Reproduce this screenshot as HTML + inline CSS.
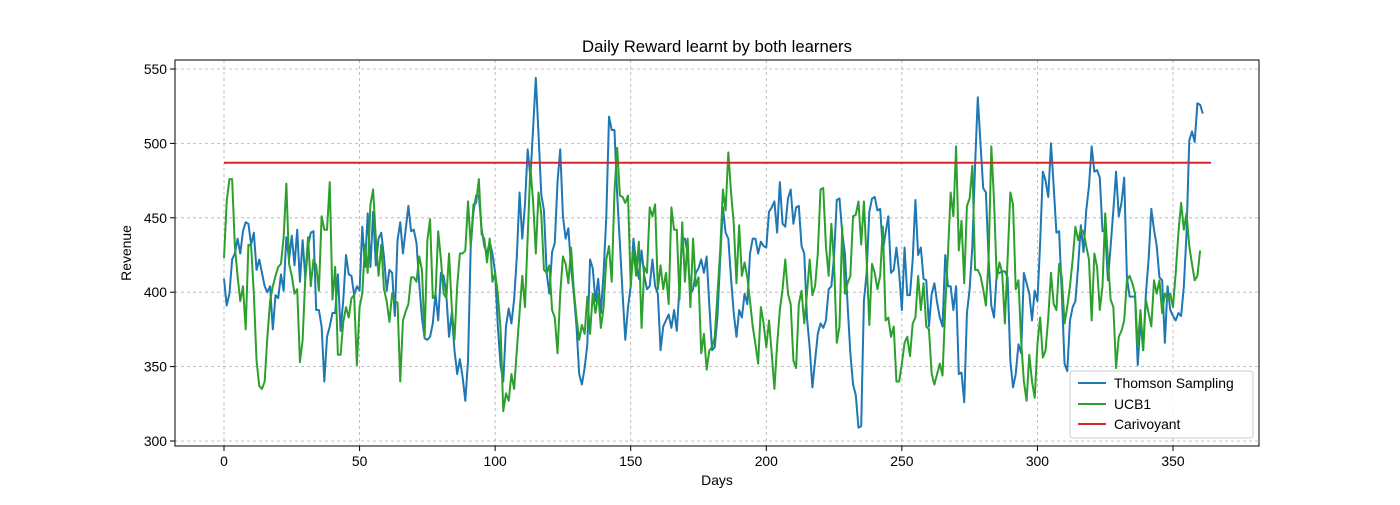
<!DOCTYPE html>
<html><head><meta charset="utf-8"><style>
body{margin:0;background:#fff;}
svg text{font-family:"Liberation Sans","DejaVu Sans",sans-serif;fill:#000;}
</style></head><body>
<svg id="chart" width="1400" height="500" viewBox="0 0 1400 500" xmlns="http://www.w3.org/2000/svg">
<rect x="0" y="0" width="1400" height="500" fill="#fff"/>
<g id="grid"></g>
<g id="series"></g>
<rect x="175" y="60" width="1084" height="386" fill="none" stroke="#000" stroke-width="1"/>
<g id="ticks"></g>
<text x="717" y="52" font-size="16.7" text-anchor="middle">Daily Reward learnt by both learners</text>
<text x="717" y="485" font-size="13.9" text-anchor="middle">Days</text>
<text x="131" y="253" font-size="13.9" text-anchor="middle" transform="rotate(-90 131 253)">Revenue</text>
<g>
<rect x="1070" y="371" width="183" height="67" rx="3" fill="#fff" fill-opacity="0.8" stroke="#ccc"/>
<line x1="1078" y1="383" x2="1106" y2="383" stroke="#1f77b4" stroke-width="2"/>
<text x="1114" y="388" font-size="13.9">Thomson Sampling</text>
<line x1="1078" y1="404" x2="1106" y2="404" stroke="#2ca02c" stroke-width="2"/>
<text x="1114" y="409" font-size="13.9">UCB1</text>
<line x1="1078" y1="424" x2="1106" y2="424" stroke="#d62728" stroke-width="2"/>
<text x="1114" y="429" font-size="13.9">Carivoyant</text>
</g>
</svg>
<script>
const xTicks=[0,50,100,150,200,250,300,350];
const yTicks=[300,350,400,450,500,550];
const thomson=[409,391,399,422,426,436,426,441,447,446,432,440,415,422,413,404,400,404,375,398,396,412,401,437,422,438,418,442,407,435,409,431,440,441,388,388,377,340,370,377,386,386,412,374,395,425,412,411,398,404,401,444,417,453,417,454,418,436,440,424,
401,415,413,384,435,447,426,442,458,441,442,433,406,383,369,368,370,379,399,381,413,411,398,370,386,361,345,355,343,327,354,431,454,465,465,443,431,426,434,426,413,377,351,340,377,389,379,395,424,467,436,459,496,477,510,
544,506,466,455,413,399,427,433,474,496,451,436,443,417,399,377,345,338,349,365,422,416,394,409,386,413,451,518,509,509,466,433,399,368,390,404,436,420,409,428,411,402,404,422,404,399,361,377,381,385,376,388,374,404,436,436,426,399,402,413,
416,422,413,424,391,361,363,384,422,457,440,436,409,386,370,388,383,399,392,426,436,436,426,434,431,430,454,457,461,440,474,446,444,463,469,446,457,458,431,426,383,363,336,354,372,379,376,381,402,404,424,462,463,440,426,391,359,338,331,309,310,
394,413,454,463,464,455,456,428,440,451,413,415,430,413,388,430,398,398,422,462,425,430,409,408,377,399,406,393,383,377,425,404,404,388,404,345,346,326,386,402,431,485,531,500,470,467,422,391,383,413,413,414,414,410,354,336,345,365,359,
413,406,399,381,401,394,433,481,475,464,500,471,440,441,399,352,347,381,390,394,417,445,427,455,471,498,481,482,477,441,441,408,431,455,481,451,460,477,410,397,397,397,351,381,361,399,422,456,442,431,410,408,366,404,388,384,381,386,384,404,440,502,508,501,527,526,520];
const ucb1=[423,461,476,476,431,411,394,404,375,432,431,399,354,337,335,340,370,394,404,411,417,419,437,473,419,411,399,402,353,368,411,437,404,422,418,401,451,442,442,474,395,417,358,358,380,390,383,396,398,351,390,399,432,413,459,469,436,411,432,402,
394,380,399,394,393,340,381,387,392,410,410,407,424,415,370,435,449,396,398,441,422,399,396,426,390,368,404,426,426,428,461,431,459,460,476,439,436,420,436,407,413,399,375,320,332,327,345,335,361,386,411,390,437,484,461,
426,467,453,415,413,418,388,383,359,399,424,419,406,430,402,383,368,378,372,397,372,399,386,399,376,390,422,431,407,467,497,465,464,460,465,404,428,411,434,376,417,413,457,451,459,402,418,402,413,392,457,442,442,395,447,407,436,390,436,
404,410,359,372,348,361,363,370,399,428,469,455,494,467,446,406,445,411,420,410,394,377,365,352,390,379,363,381,359,335,365,388,402,422,399,392,354,349,392,401,379,399,422,398,404,426,469,470,431,411,446,419,366,377,444,399,406,411,451,452,461,
432,461,422,378,419,413,402,411,444,381,383,370,377,340,340,352,366,370,357,379,383,411,388,406,377,375,345,338,345,352,344,390,426,467,451,498,428,448,406,458,463,485,415,415,411,402,391,422,498,461,409,420,413,379,422,467,459,402,408,
367,340,327,358,340,329,365,383,356,361,383,413,392,388,419,410,379,390,404,422,444,435,442,441,431,422,381,426,417,388,404,453,422,395,390,349,370,374,381,408,411,406,399,363,388,361,395,386,377,408,399,408,386,399,395,399,390,413,440,460,442,453,431,419,408,411,428];
const clairvoyantValue=[487];
const clairvoyantDays=[0,364];

const NS='http://www.w3.org/2000/svg';
const X0=175,X1=1259,Y0=60,Y1=446;
function xs(d){return 224+d*949/350;}
function ys(v){return 69+(550-v)*372/250;}
function mk(t,a,p){const e=document.createElementNS(NS,t);for(const k in a)e.setAttribute(k,a[k]);p.appendChild(e);return e;}
const grid=document.getElementById('grid'),ticks=document.getElementById('ticks'),series=document.getElementById('series');
xTicks.forEach(t=>{const x=xs(t);
 const g=mk('line',{x1:x,y1:Y0,x2:x,y2:Y1,stroke:'#b0b0b0','stroke-width':0.8,'stroke-dasharray':'3,3'},grid);
 
 
 const tk=mk('line',{x1:x,y1:Y1,x2:x,y2:Y1+5,stroke:'#000','stroke-width':1},ticks);
 
 
 const tl=mk('text',{x:x,y:Y1+20,'font-size':13.9,'text-anchor':'middle'},ticks);tl.textContent=t;
 
 
});
yTicks.forEach(t=>{const y=ys(t);
 const g=mk('line',{x1:X0,y1:y,x2:X1,y2:y,stroke:'#b0b0b0','stroke-width':0.8,'stroke-dasharray':'3,3'},grid);
 
 
 const tk=mk('line',{x1:X0-5,y1:y,x2:X0,y2:y,stroke:'#000','stroke-width':1},ticks);
 
 
 const tl=mk('text',{x:X0-8,y:y+5,'font-size':13.9,'text-anchor':'end'},ticks);tl.textContent=t;
 
 
});
function line(arr,color,name){
 const pts=arr.map((v,i)=>xs(i).toFixed(2)+','+ys(v).toFixed(2)).join(' ');
 const p=mk('polyline',{points:pts,fill:'none',stroke:color,'stroke-width':2,'stroke-linejoin':'round'},series);
 
 
}
line(thomson,'#1f77b4','thomson-sampling-line');
line(ucb1,'#2ca02c','ucb1-line');
const r=mk('line',{x1:xs(clairvoyantDays[0]),y1:ys(clairvoyantValue[0]),x2:xs(clairvoyantDays[1]),y2:ys(clairvoyantValue[0]),stroke:'#d62728','stroke-width':2},series);


</script>
</body></html>
